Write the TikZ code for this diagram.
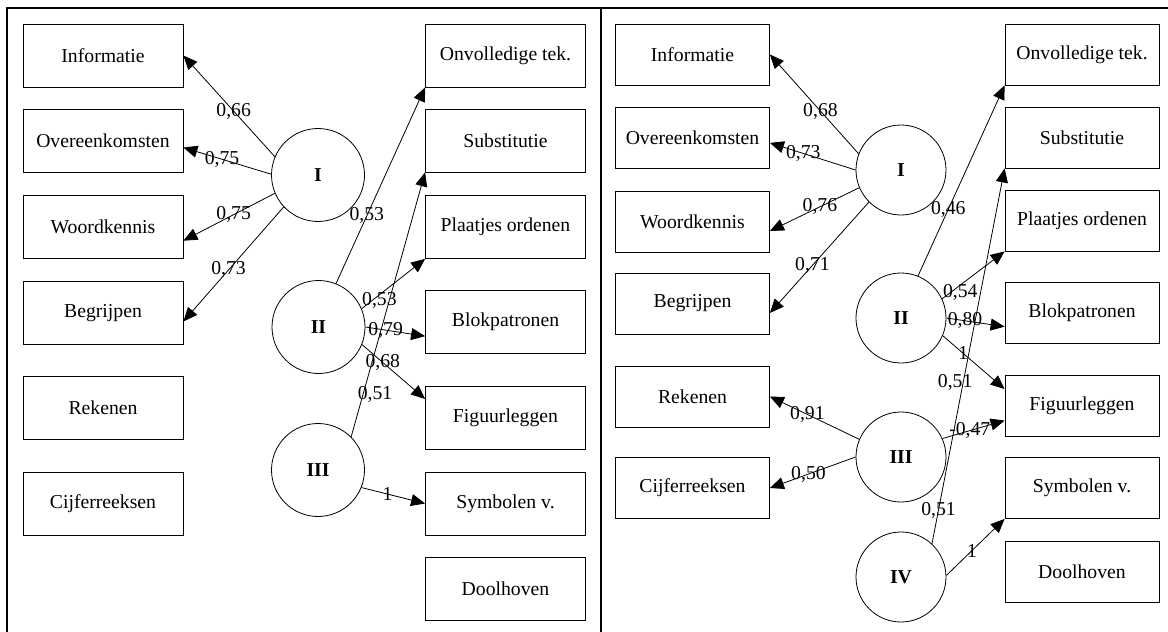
\documentclass[tikz,border=0pt]{standalone}
\usepackage{fontspec}
\setmainfont{Liberation Serif}
\usetikzlibrary{arrows.meta}

\begin{document}
\begin{tikzpicture}[x=1pt,y=-1pt,line width=0.8pt,
		every node/.style={font=\fontsize{19.7}{23}\selectfont},
		box/.style={draw,rectangle,minimum width=160pt,minimum height=63pt,inner sep=0pt},
		rbox/.style={box,minimum width=154pt,minimum height=61pt},
		factor/.style={draw,circle,minimum size=93pt,inner sep=0pt,font=\fontsize{19.7}{23}\selectfont\bfseries},
		rfactor/.style={factor,minimum size=90pt},
		arr/.style={-{Triangle[length=14pt,width=12pt]}},
		lbl/.style={inner sep=0pt}]
			\useasboundingbox (0,0) rectangle (1168,632);
			\draw[line width=2.5pt] (6,8) -- (1168,8);
			\draw[line width=2.5pt] (7,8) -- (7,632);
			\draw[line width=2.5pt] (601,8) -- (601,632);

			\node[box] (inf1) at (103,55.5) {Informatie};
			\node[box] (ovk1) at (103,140.5) {Overeenkomsten};
			\node[box] (wk1) at (103,226.5) {Woordkennis};
			\node[box] (beg1) at (103,313) {Begrijpen};
			\node[box] (rek1) at (103,408) {Rekenen};
			\node[box] (cij1) at (103,503.5) {Cijferreeksen};
			\node[box] (onv1) at (505.5,55.5) {Onvolledige tek.};
			\node[box] (sub1) at (505.5,140.5) {Substitutie};
			\node[box] (pla1) at (505.5,227) {Plaatjes ordenen};
			\node[box] (blok1) at (505.5,322) {Blokpatronen};
			\node[box] (fig1) at (505.5,417.5) {Figuurleggen};
			\node[box] (sym1) at (505.5,503.5) {Symbolen v.};
			\node[box] (dool1) at (505.5,589) {Doolhoven};
			\node[factor] (fI1) at (318,175) {I};
			\node[factor] (fII1) at (318.5,327) {II};
			\node[factor] (fIII1) at (318,470) {III};

			\draw[arr] (fI1.157) -- (inf1.east) node[lbl,pos=.45]{0,66};
			\draw[arr] (fI1.179) -- (ovk1.-5) node[lbl,pos=.56]{0,75};
			\draw[arr] (fI1.203) -- (wk1.-10) node[lbl,pos=.45]{0,75};
			\draw[arr] (fI1.223) -- (beg1.-6.4) node[lbl,pos=.55]{0,73};
			\draw[arr] (fII1.68) -- (onv1.south west) node[lbl,pos=.345]{0,53};
			\draw[arr] (fIII1.45) -- (sub1.south west) node[lbl,pos=.16,xshift=12pt]{0,51};
			\draw[arr] (fII1.23.6) -- (pla1.south west) node[lbl,pos=.28,yshift=-6pt]{0,53};
			\draw[arr] (fII1.0) -- (blok1.190.7) node[lbl,pos=.34]{0,79};
			\draw[arr] (fII1.-22.5) -- (fig1.167.6) node[lbl,pos=.33]{0,68};
			\draw[arr] (fIII1.-22) -- (sym1.west) node[lbl,pos=.41]{1};

			\node[rbox] (inf2) at (692.5,54.5) {Informatie};
			\node[rbox] (ovk2) at (692.5,137.5) {Overeenkomsten};
			\node[rbox] (wk2) at (692.5,221.5) {Woordkennis};
			\node[rbox] (beg2) at (692.5,303.5) {Begrijpen};
			\node[rbox] (rek2) at (692.5,396.5) {Rekenen};
			\node[rbox] (cij2) at (692.5,488) {Cijferreeksen};
			\node[rbox] (onv2) at (1082,54.5) {Onvolledige tek.};
			\node[rbox] (sub2) at (1082,137.5) {Substitutie};
			\node[rbox] (pla2) at (1082,220.5) {Plaatjes ordenen};
			\node[rbox] (blok2) at (1082,313) {Blokpatronen};
			\node[rbox] (fig2) at (1082,405.5) {Figuurleggen};
			\node[rbox] (sym2) at (1082,488) {Symbolen v.};
			\node[rbox] (dool2) at (1082,571.5) {Doolhoven};
			\node[rfactor] (fI2) at (901,170) {I};
			\node[rfactor] (fII2) at (901,318) {II};
			\node[rfactor] (fIII2) at (901,457) {III};
			\node[rfactor] (fIV2) at (901,577) {IV};

			\draw[arr] (fI2.159) -- (inf2.east) node[lbl,pos=.43]{0,68};
			\draw[arr] (fI2.180) -- (ovk2.-4) node[lbl,pos=.61]{0,73};
			\draw[arr] (fI2.203) -- (wk2.-7) node[lbl,pos=.44]{0,76};
			\draw[arr] (fI2.225) -- (beg2.-7.4) node[lbl,pos=.57]{0,71};
			\draw[arr] (fII2.68) -- (onv2.south west) node[lbl,pos=.35]{0,46};
			\draw[arr] (fIV2.47) -- (sub2.south west) node[lbl,pos=.09]{0,51} node[lbl,pos=.43,xshift=-8pt]{0,51};
			\draw[arr] (fII2.25) -- (pla2.south west) node[lbl,pos=.29,yshift=-7pt]{0,54};
			\draw[arr] (fII2.0) -- (blok2.190.3) node[lbl,pos=.32]{0,80};
			\draw[arr] (fII2.-23) -- (fig2.168) node[lbl,pos=.33]{1};
			\draw[arr] (fIII2.157) -- (rek2.east) node[lbl,pos=.58]{0,91};
			\draw[arr] (fIII2.180) -- (cij2.east) node[lbl,pos=.55]{0,50};
			\draw[arr] (fIII2.24) -- (fig2.191) node[lbl,pos=.44]{-0,47};
			\draw[arr] (fIV2.2) -- (sym2.south west) node[lbl,pos=.44]{1};
		\end{tikzpicture}
\end{document}
